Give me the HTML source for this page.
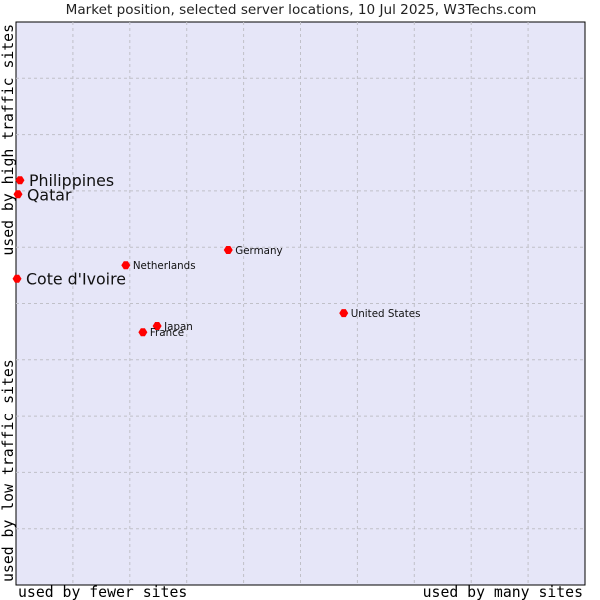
<!DOCTYPE html>
<html><head><meta charset="utf-8"><style>body{margin:0;background:#fff}svg{display:block}</style></head>
<body>
<svg width="600" height="600" xmlns="http://www.w3.org/2000/svg" font-family="DejaVu Sans, Liberation Sans, sans-serif">
<text x="301" y="14" text-anchor="middle" font-size="13.6" fill="#222">Market position, selected server locations, 10 Jul 2025, W3Techs.com</text>
<rect x="16" y="22" width="569" height="563" fill="#e6e6f8" stroke="#000" stroke-width="1"/>
<g id="grid"></g>
<g id="pts"></g>
<text x="18" y="597" font-family="DejaVu Sans Mono, Liberation Mono, monospace" font-size="14.8" fill="#000">used by fewer sites</text>
<text x="583" y="597" text-anchor="end" font-family="DejaVu Sans Mono, Liberation Mono, monospace" font-size="14.8" fill="#000">used by many sites</text>
<text transform="translate(13,582) rotate(-90)" font-family="DejaVu Sans Mono, Liberation Mono, monospace" font-size="14.8" fill="#000">used by low traffic sites</text>
<text transform="translate(13,24) rotate(-90)" text-anchor="end" font-family="DejaVu Sans Mono, Liberation Mono, monospace" font-size="14.8" fill="#000">used by high traffic sites</text>
</svg>
<script>
const names=["Philippines","Qatar","Cote d'Ivoire","Netherlands","Germany","United States","Japan","France"];
const xVals=[0.7,0.35,0.18,19.3,37.3,57.6,24.8,22.3];
const yVals=[71.9,69.4,54.4,56.8,59.5,48.3,46.0,44.9];
const big=[true,true,true,false,false,false,false,false];
const X=v=>16+v*5.69, Y=v=>585-v*5.63;
const NS="http://www.w3.org/2000/svg";
const g=document.getElementById('grid');
for(let i=1;i<10;i++){
  let l=document.createElementNS(NS,'line');
  
  
  l.setAttribute('x1',X(i*10));l.setAttribute('x2',X(i*10));l.setAttribute('y1',22);l.setAttribute('y2',585);
  l.setAttribute('stroke','#c0c0c8');l.setAttribute('stroke-dasharray','3,3');g.appendChild(l);
  let m=document.createElementNS(NS,'line');
  
  
  m.setAttribute('y1',Y(i*10));m.setAttribute('y2',Y(i*10));m.setAttribute('x1',16);m.setAttribute('x2',585);
  m.setAttribute('stroke','#c0c0c8');m.setAttribute('stroke-dasharray','3,3');g.appendChild(m);
}
const p=document.getElementById('pts');
names.forEach((n,i)=>{
  const cx=X(xVals[i]),cy=Y(yVals[i]);
  const d=document.createElementNS(NS,'path');
  
  
  d.setAttribute('d',`M${cx-4.5},${cy} L${cx-2},${cy-4} L${cx+2},${cy-4} L${cx+4.5},${cy} L${cx+2},${cy+4} L${cx-2},${cy+4} Z`);
  d.setAttribute('fill','#f00');p.appendChild(d);
  const t=document.createElementNS(NS,'text');
  
  
  t.setAttribute('x',cx+(big[i]?9:7));t.setAttribute('y',cy+(big[i]?6:4));
  t.setAttribute('font-size',big[i]?15.8:10.3);t.setAttribute('fill','#111');
  t.textContent=n;p.appendChild(t);
});
</script>
</body></html>
